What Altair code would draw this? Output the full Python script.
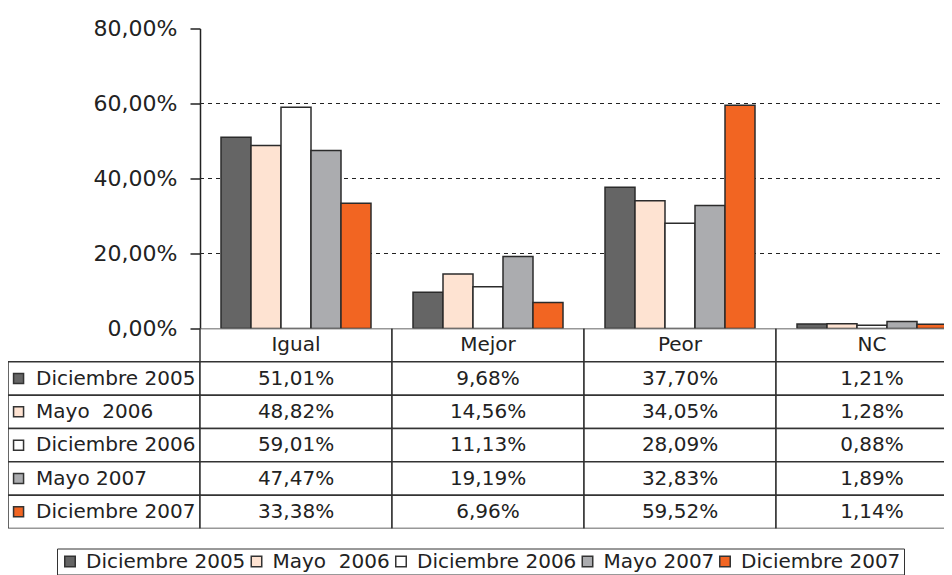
import altair as alt
import pandas as pd

# ---- data -------------------------------------------------------------
categories = ["Igual", "Mejor", "Peor", "NC"]
series = ["Diciembre 2005", "Mayo \u00a02006", "Diciembre 2006", "Mayo 2007", "Diciembre 2007"]
colors = ["#656565", "#FEE3D2", "#FFFFFF", "#ABACAF", "#F26522"]

dic_2005 = [51.01, 9.68, 37.70, 1.21]
may_2006 = [48.82, 14.56, 34.05, 1.28]
dic_2006 = [59.01, 11.13, 28.09, 0.88]
may_2007 = [47.47, 19.19, 32.83, 1.89]
dic_2007 = [33.38, 6.96, 59.52, 1.14]
series_values = [dic_2005, may_2006, dic_2006, may_2007, dic_2007]

y_ticks = [0, 20, 40, 60, 80]
grid_values = [20, 40, 60]

# ---- derived tables ---------------------------------------------------
LBL = "lbl"
cols = [LBL] + categories
rows = ["hdr"] + series

bars_df = pd.DataFrame(
    [{"cat": c, "serie": s, "v": vals[i]}
     for s, vals in zip(series, series_values) for i, c in enumerate(categories)]
)

def fmt(v):
    return f"{v:.2f}".replace(".", ",") + "%"

cells_df = pd.DataFrame(
    [{"row": r, "col": c} for r in rows for c in cols if not (r == "hdr" and c == LBL)]
)
center_txt = [{"row": "hdr", "col": c, "t": c} for c in categories]
center_txt += [{"row": s, "col": c, "t": fmt(vals[i])}
               for s, vals in zip(series, series_values) for i, c in enumerate(categories)]
center_df = pd.DataFrame(center_txt)
label_df = pd.DataFrame([{"row": s, "col": LBL, "serie": s} for s in series])

# ---- scales -----------------------------------------------------------
VIEW_W = 936          # visible width (page is cropped on the right like the original)
COLW = 192
RANGE_W = COLW * len(cols)
FONT = "DejaVu Sans"
INK = "#222222"

xscale = alt.Scale(domain=cols, range=[0, RANGE_W], paddingInner=0, paddingOuter=0)
yscale = alt.Scale(domain=[0, 80], nice=False, zero=True)
rscale = alt.Scale(domain=rows, paddingInner=0, paddingOuter=0)
cscale = alt.Scale(domain=series, range=colors)

legend = alt.Legend(
    orient="none", legendX=49, legendY=520, direction="horizontal", title=None,
    symbolType="square", symbolSize=110, symbolStrokeColor="#333333",
    symbolStrokeWidth=1.5, labelFont=FONT, labelFontSize=20, labelColor=INK,
    labelOffset=6, columnPadding=0.5, padding=3, strokeColor="#333333",
    fillColor="white", labelLimit=0,
)

yaxis = alt.Axis(
    values=y_ticks,
    labelExpr="replace(format(datum.value, '.2f'), '.', ',') + '%'",
    offset=-COLW, grid=False, domainColor=INK, domainWidth=1.5,
    tickColor=INK, tickWidth=1.5, tickSize=10, labelFontSize=22,
    labelFont=FONT, labelColor=INK, labelPadding=13, title=None,
)

# ---- bar chart --------------------------------------------------------
grid = alt.Chart(pd.DataFrame({"v": grid_values})).mark_rule(
    strokeDash=[4, 4], color=INK, strokeWidth=1.2, clip=True
).encode(
    x=alt.XDatum("Igual", type="nominal", bandPosition=0, scale=xscale, axis=None),
    x2=alt.X2Datum("NC", bandPosition=1),
    y=alt.Y("v:Q", scale=yscale, axis=yaxis),
)

bars = alt.Chart(bars_df).mark_bar(stroke="#2b2b2b", strokeWidth=1.5, clip=True).encode(
    x=alt.X("cat:N", scale=xscale, axis=None, sort=cols),
    xOffset=alt.XOffset("serie:N", scale=alt.Scale(domain=series, paddingInner=0, paddingOuter=0.7)),
    y=alt.Y("v:Q", scale=yscale, axis=yaxis),
    color=alt.Color("serie:N", scale=cscale, legend=legend),
)

top = alt.layer(grid, bars).properties(width=VIEW_W, height=300)

# ---- data table -------------------------------------------------------
cells = alt.Chart(cells_df).mark_rect(
    fill="white", stroke="#333333", strokeWidth=1.5, clip=True
).encode(
    x=alt.X("col:N", scale=xscale, axis=None),
    y=alt.Y("row:N", scale=rscale, axis=None),
)

center = alt.Chart(center_df).mark_text(
    font=FONT, fontSize=20, color=INK, baseline="middle", align="center", clip=True
).encode(
    x=alt.X("col:N", scale=xscale, axis=None),
    y=alt.Y("row:N", scale=rscale, axis=None),
    text="t:N",
)

labels = alt.Chart(label_df).mark_text(
    font=FONT, fontSize=20, color=INK, baseline="middle", align="left"
).encode(
    x=alt.X("col:N", scale=xscale, axis=None, bandPosition=0.146),
    y=alt.Y("row:N", scale=rscale, axis=None),
    text="serie:N",
)

swatches = alt.Chart(label_df).mark_point(
    shape="square", size=100, filled=True, stroke="#333333", strokeWidth=1.5, opacity=1
).encode(
    x=alt.X("col:N", scale=xscale, axis=None, bandPosition=0.055),
    y=alt.Y("row:N", scale=rscale, axis=None),
    color=alt.Color("serie:N", scale=cscale, legend=legend),
)

table = alt.layer(cells, center, labels, swatches).properties(width=VIEW_W, height=200)

chart = alt.vconcat(top, table, spacing=0, bounds="flush").properties(
    padding={"left": 0, "top": 9.5, "right": 0, "bottom": 0}
).configure(font=FONT).configure_view(stroke=None)

chart.save("out.html", embed_options={"renderer": "svg", "actions": False})
